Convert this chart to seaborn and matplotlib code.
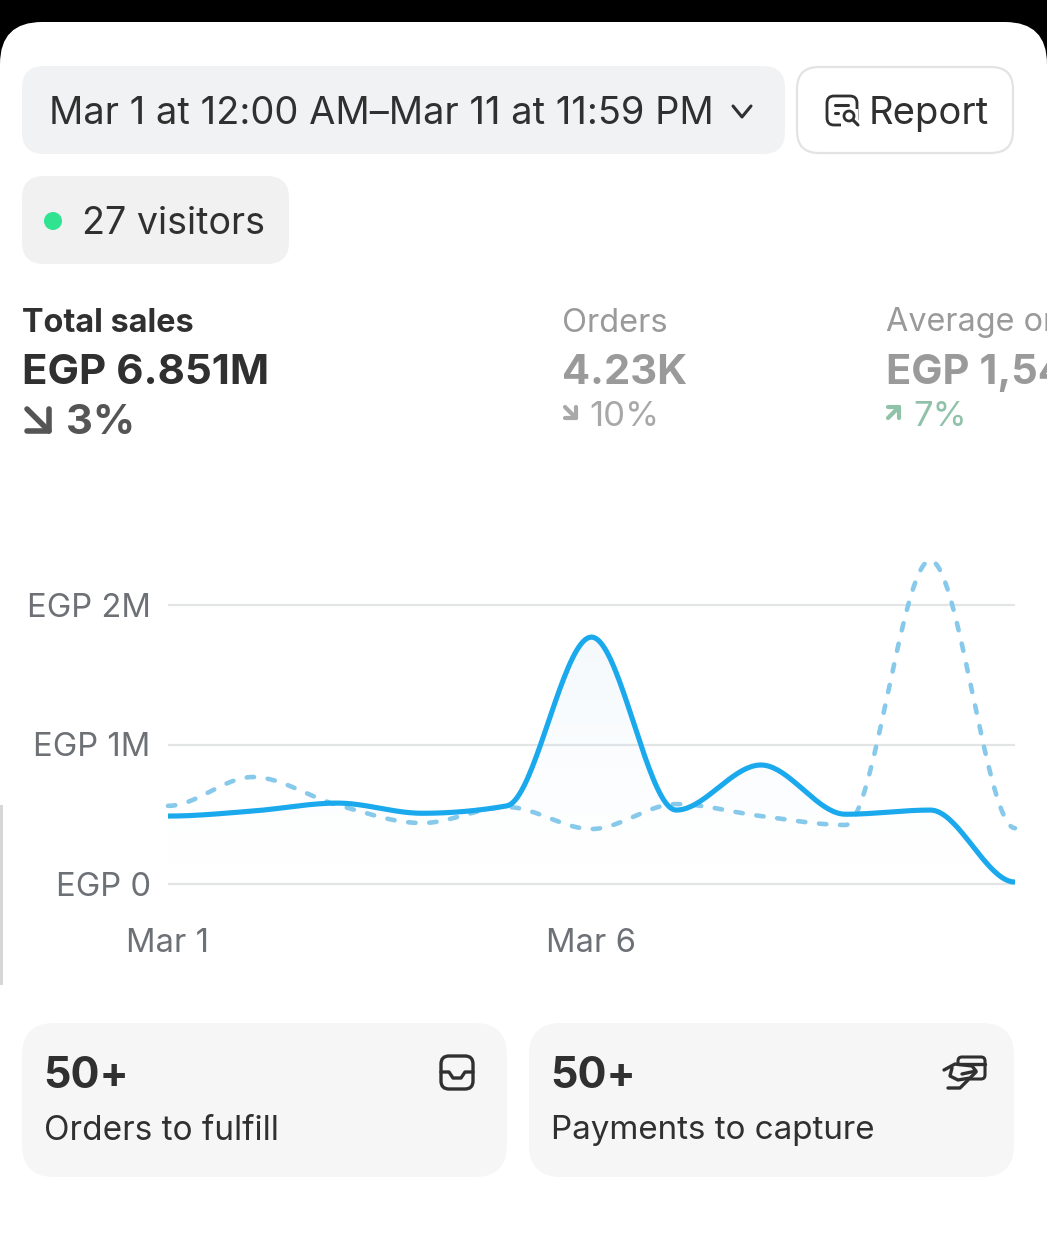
import numpy as np
import pandas as pd
import matplotlib
matplotlib.use("Agg")
import matplotlib.pyplot as plt
import seaborn as sns
from matplotlib.patches import FancyBboxPatch, Rectangle, Circle

# daily values in millions EGP
days = list(range(11))
current = [0.487, 0.523, 0.580, 0.507, 0.560, 1.770, 0.530, 0.853, 0.500, 0.530, 0.014]
previous = [0.560, 0.767, 0.566, 0.437, 0.552, 0.394, 0.573, 0.487, 0.423, 2.320, 0.400]
y_ticks = [0, 1, 2]
y_labels = ["EGP 0", "EGP 1M", "EGP 2M"]
x_ticks = [0, 5]
x_labels = ["Mar 1", "Mar 6"]

W, H = 1047, 1239
LINE = "#1aa9ec"
LINE2 = "#86c9ea"
DARK = "#303030"
GREY = "#9a9a9a"
GREEN = "#8fc2a8"


def monotone(x, y, n=40):
    # monotone cubic, same curve the chart library draws between the points
    x = np.asarray(x, float); y = np.asarray(y, float)
    h = np.diff(x); s = np.diff(y) / h
    m = np.zeros_like(y)
    for i in range(1, len(y) - 1):
        if s[i - 1] * s[i] > 0:
            p = (s[i - 1] * h[i] + s[i] * h[i - 1]) / (h[i - 1] + h[i])
            m[i] = (np.sign(s[i - 1]) + np.sign(s[i])) * min(abs(s[i - 1]), abs(s[i]), 0.5 * abs(p))
    xs = []; ys = []
    for i in range(len(h)):
        t = np.linspace(0, 1, n, endpoint=False)
        xs.append(x[i] + t * h[i])
        ys.append((2*t**3 - 3*t**2 + 1) * y[i] + (t**3 - 2*t**2 + t) * h[i] * m[i]
                  + (-2*t**3 + 3*t**2) * y[i + 1] + (t**3 - t**2) * h[i] * m[i + 1])
    return np.append(np.concatenate(xs), x[-1]), np.append(np.concatenate(ys), y[-1])


def box(ax, x0, y0, x1, y1, r, fc, ec="none", lw=0):
    ax.add_patch(FancyBboxPatch((x0 + r, y0 + r), x1 - x0 - 2 * r, y1 - y0 - 2 * r,
                                boxstyle=f"round,pad={r},rounding_size={r}", fc=fc, ec=ec, lw=lw))


def poly(ax, xs, ys, color=DARK, lw=2.2):
    ax.plot(xs, ys, color=color, lw=lw, solid_capstyle="round", solid_joinstyle="round")


def down_arrow(ax, x, y, s, color, lw):
    poly(ax, [x, x + s], [y, y + s], color, lw)
    poly(ax, [x, x + s, x + s], [y + s, y + s, y], color, lw)


def up_arrow(ax, x, y, s, color, lw):
    poly(ax, [x, x + s], [y + s, y], color, lw)
    poly(ax, [x, x + s, x + s], [y, y, y + s], color, lw)


sns.set_style("white")
plt.rcParams["font.family"] = ["Inter", "DejaVu Sans"]
fig = plt.figure(figsize=(W / 100, H / 100), dpi=100, facecolor="white")

# page furniture in pixel coordinates
ui = fig.add_axes([0, 0, 1, 1])
ui.set_xlim(0, W); ui.set_ylim(H, 0); ui.axis("off")
ui.add_patch(Rectangle((0, 0), W, 70, fc="black", ec="none"))
box(ui, 0, 22, W, 300, 42, "white")
ui.add_patch(Rectangle((0, 70), W, 240, fc="white", ec="none"))
ui.add_patch(Rectangle((0, 805), 3, 180, fc="#d6d6d6", ec="none"))

box(ui, 22, 66, 785, 154, 22, "#f1f2f3")
ui.text(49, 114, "Mar 1 at 12:00 AM–Mar 11 at 11:59 PM", fontsize=27.4, color=DARK, va="center")
poly(ui, [733, 742, 751], [106, 117, 106], lw=2.2)
box(ui, 797, 67, 1013, 153, 22, "white", "#e2e3e4", 1.6)
box(ui, 827, 96, 857, 125, 7, "none", DARK, 2.0)
poly(ui, [835, 848], [105, 105])
poly(ui, [835, 838], [113, 113])
ui.add_patch(Rectangle((841, 109), 17, 20, fc="white", ec="none"))
ui.add_patch(Circle((849, 116), 5, fc="white", ec=DARK, lw=2.0))
poly(ui, [853, 858], [120, 125])
ui.text(869, 114, "Report", fontsize=27.5, color=DARK, va="center")

box(ui, 22, 176, 289, 264, 22, "#f1f1f2")
ui.add_patch(Circle((53, 221), 9, fc="#2fe391", ec="none"))
ui.text(82, 224, "27 visitors", fontsize=27.1, color=DARK, va="center")

ui.text(22, 323, "Total sales", fontsize=23.3, color=DARK, va="center", weight="bold")
ui.text(22, 373, "EGP 6.851M", fontsize=30.3, color=DARK, va="center", weight="bold")
down_arrow(ui, 27, 409, 22, "#555555", 4.0)
ui.text(66, 423, "3%", fontsize=30, color="#555555", va="center", weight="bold")

ui.text(562, 323, "Orders", fontsize=23.5, color=GREY, va="center")
ui.text(562, 373, "4.23K", fontsize=30, color=GREY, va="center", weight="bold")
down_arrow(ui, 565, 407, 11, "#a8a8a8", 3.0)
ui.text(589, 417, "10%", fontsize=25, color="#a8a8a8", va="center")

ui.text(886, 323, "Average or", fontsize=23.3, color=GREY, va="center", clip_on=True)
ui.text(886, 373, "EGP 1,54", fontsize=30, color=GREY, va="center", weight="bold", clip_on=True)
up_arrow(ui, 888, 407, 11, GREEN, 3.0)
ui.text(913, 417, "7%", fontsize=25, color=GREEN, va="center")

box(ui, 22, 1023, 507, 1177, 32, "#f6f6f7")
box(ui, 529, 1023, 1014, 1177, 32, "#f6f6f7")
ui.text(43, 1077, "50+", fontsize=31, color=DARK, va="center", weight="bold")
ui.text(550, 1077, "50+", fontsize=31, color=DARK, va="center", weight="bold")
ui.text(44, 1131, "Orders to fulfill", fontsize=24, color=DARK, va="center")
ui.text(551, 1131, "Payments to capture", fontsize=23.9, color=DARK, va="center")

box(ui, 441, 1056, 473, 1089, 8, "none", DARK, 2.4)
poly(ui, [441, 449, 453, 461, 465, 473], [1072, 1072, 1078, 1078, 1072, 1072], lw=2.4)

box(ui, 958, 1057, 985, 1079, 4, "none", DARK, 2.2)
poly(ui, [958, 985], [1064, 1064], lw=2.4)
ui.add_patch(Rectangle((944, 1066), 24, 24, fc="#f6f6f7", ec="none"))
poly(ui, [944, 955, 972, 976, 962], [1070, 1064, 1066, 1071, 1074], lw=2.4)
poly(ui, [952, 950, 958, 970, 976], [1068, 1076, 1080, 1078, 1072], lw=2.4)
poly(ui, [948, 960, 968], [1088, 1088, 1080], lw=2.4)

# chart, axes placed so 0 sits at y=884 and 2M at y=605
px_per_m = 139.5
y_min, y_max = -0.03, 2.4
left, right = 168, 1015
bottom_px = 884 - y_min * px_per_m
top_px = 884 - y_max * px_per_m
ax = fig.add_axes([left / W, 1 - bottom_px / H, (right - left) / W, (bottom_px - top_px) / H])
ax.patch.set_alpha(0)

xc, yc = monotone(days, current)
xp, yp = monotone(days, previous)
df_cur = pd.DataFrame({"day": xc, "sales": yc})
df_prev = pd.DataFrame({"day": xp, "sales": yp})

# fill under the current line fades out towards the axis
grad = np.zeros((64, 2, 4))
grad[..., :3] = matplotlib.colors.to_rgb("#cfe4f3")
grad[..., 3] = np.linspace(0.26, 0.0, 64)[:, None] ** 1.15
im = ax.imshow(grad, extent=[0, 10, 0.1, max(current)], origin="upper", aspect="auto", zorder=1)
fill = ax.fill_between(xc, 0, yc, color="none", lw=0)
im.set_clip_path(fill.get_paths()[0], transform=ax.transData)

ax.grid(axis="y", color="#e3e4e5", lw=1.6)
ax.set_axisbelow(True)
sns.lineplot(data=df_prev, x="day", y="sales", ax=ax, color=LINE2, lw=3.3, zorder=3, errorbar=None,
             linestyle=(0, (1.6, 3.0)), dash_capstyle="round", clip_on=False)
sns.lineplot(data=df_cur, x="day", y="sales", ax=ax, color=LINE, lw=3.7, zorder=4, errorbar=None,
             solid_capstyle="butt", clip_on=True)

ax.set_xlim(0, 10); ax.set_ylim(y_min, y_max)
ax.set_xticks(x_ticks, x_labels); ax.set_yticks(y_ticks, y_labels)
ax.set_xlabel(""); ax.set_ylabel("")
ax.tick_params(axis="both", length=0, labelsize=23.6, labelcolor="#6d7175")
ax.tick_params(axis="y", pad=12.5)
ax.tick_params(axis="x", pad=28.5)
sns.despine(ax=ax, left=True, bottom=True)

fig.savefig("out.png", dpi=100)
